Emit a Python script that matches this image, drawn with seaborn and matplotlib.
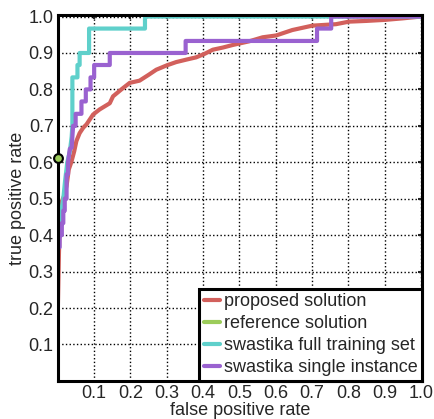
import matplotlib
matplotlib.use("Agg")
import matplotlib.pyplot as plt
import seaborn as sns
import pandas as pd

# ROC curves
red_fpr = [0, 0, 0.003, 0.006, 0.01, 0.014, 0.018, 0.024, 0.03, 0.037, 0.045, 0.051, 0.06, 0.07,
           0.079, 0.097, 0.115, 0.143, 0.152, 0.175, 0.198, 0.225, 0.25, 0.271, 0.3, 0.326, 0.355,
           0.381, 0.405, 0.427, 0.455, 0.482, 0.527, 0.564, 0.601, 0.646, 0.701, 0.766, 0.802,
           0.85, 0.903, 0.95, 1.0]
red_tpr = [0, 0.2, 0.35, 0.45, 0.49, 0.5, 0.51, 0.535, 0.58, 0.6, 0.63, 0.658, 0.68, 0.695,
           0.704, 0.731, 0.745, 0.762, 0.781, 0.8, 0.818, 0.824, 0.84, 0.854, 0.866, 0.875, 0.882,
           0.888, 0.898, 0.909, 0.915, 0.922, 0.932, 0.943, 0.948, 0.963, 0.975, 0.979, 0.986,
           0.988, 0.991, 0.995, 1.0]

ref_fpr = [0.0]
ref_tpr = [0.612]

cyan_fpr = [0, 0.005, 0.01, 0.015, 0.02, 0.026, 0.033, 0.038, 0.04, 0.04, 0.054, 0.054, 0.06,
            0.06, 0.086, 0.086, 0.24, 0.24, 1.0]
cyan_tpr = [0.37, 0.43, 0.47, 0.5, 0.55, 0.6, 0.63, 0.67, 0.7, 0.833, 0.833, 0.867, 0.867,
            0.9, 0.9, 0.967, 0.967, 1.0, 1.0]

purple_fpr = [0, 0, 0.005, 0.005, 0.011, 0.011, 0.015, 0.015, 0.019, 0.019, 0.024, 0.024, 0.028,
              0.028, 0.033, 0.038, 0.042, 0.049, 0.049, 0.065, 0.065, 0.077, 0.077, 0.09, 0.09,
              0.1, 0.1, 0.143, 0.143, 0.352, 0.352, 0.714, 0.714, 0.753, 0.753, 1.0]
purple_tpr = [0.2, 0.367, 0.367, 0.4, 0.4, 0.433, 0.433, 0.467, 0.467, 0.5, 0.5, 0.567, 0.567,
              0.6, 0.637, 0.64, 0.7, 0.7, 0.733, 0.733, 0.767, 0.767, 0.8, 0.8, 0.833,
              0.833, 0.867, 0.867, 0.9, 0.9, 0.933, 0.933, 0.967, 0.967, 1.0, 1.0]

series = ["proposed solution", "reference solution", "swastika full training set",
          "swastika single instance"]
colors = ["#d2605c", "#9ccc5a", "#5fd0cb", "#9a62d0"]
ticks = [0.1, 0.2, 0.3, 0.4, 0.5, 0.6, 0.7, 0.8, 0.9, 1.0]

frames = []
for name, fx, ty in zip(series, [red_fpr, ref_fpr, cyan_fpr, purple_fpr],
                        [red_tpr, ref_tpr, cyan_tpr, purple_tpr]):
    frames.append(pd.DataFrame({"fpr": fx, "tpr": ty, "series": name, "order": range(len(fx))}))
df = pd.concat(frames, ignore_index=True)

sns.set_style("white")
plt.rcParams["font.family"] = ["Liberation Sans", "DejaVu Sans"]

fig = plt.figure(figsize=(4.35, 4.19), dpi=100)
ax = fig.add_axes([0.133, 0.091, 0.837, 0.873])

sns.lineplot(data=df, x="fpr", y="tpr", hue="series", hue_order=series,
             palette=dict(zip(series, colors)), sort=False, estimator=None,
             lw=3, ax=ax, legend=True)

ref = df[df["series"] == "reference solution"]
sns.scatterplot(data=ref, x="fpr", y="tpr", color=colors[1], s=40, edgecolor="black",
                linewidth=1.5, ax=ax, zorder=5, clip_on=False, legend=False)

ax.set_xlim(0, 1.003)
ax.set_ylim(0, 1.004)
ax.set_xticks(ticks)
ax.set_yticks(ticks)
ax.set_xticklabels([f"{t:.1f}" for t in ticks], fontsize=13)
ax.set_yticklabels([f"{t:.1f}" for t in ticks], fontsize=13)
ax.tick_params(direction="in", length=3, width=1.5, top=True, right=True, pad=3)
ax.grid(True, linestyle=":", color="black", linewidth=1)
for sp in ax.spines.values():
    sp.set_linewidth(2.2)
    sp.set_color("black")
ax.set_xlabel("false positive rate", fontsize=13, labelpad=0)
ax.set_ylabel("true positive rate", fontsize=13, labelpad=2)

leg = ax.legend(loc="lower right", fontsize=13, borderaxespad=0, handlelength=0.9,
                handletextpad=0.2, borderpad=0.25, labelspacing=0.28, fancybox=False,
                framealpha=1)
leg.get_frame().set_edgecolor("black")
leg.get_frame().set_linewidth(2.2)

fig.savefig("out.png", dpi=100)
